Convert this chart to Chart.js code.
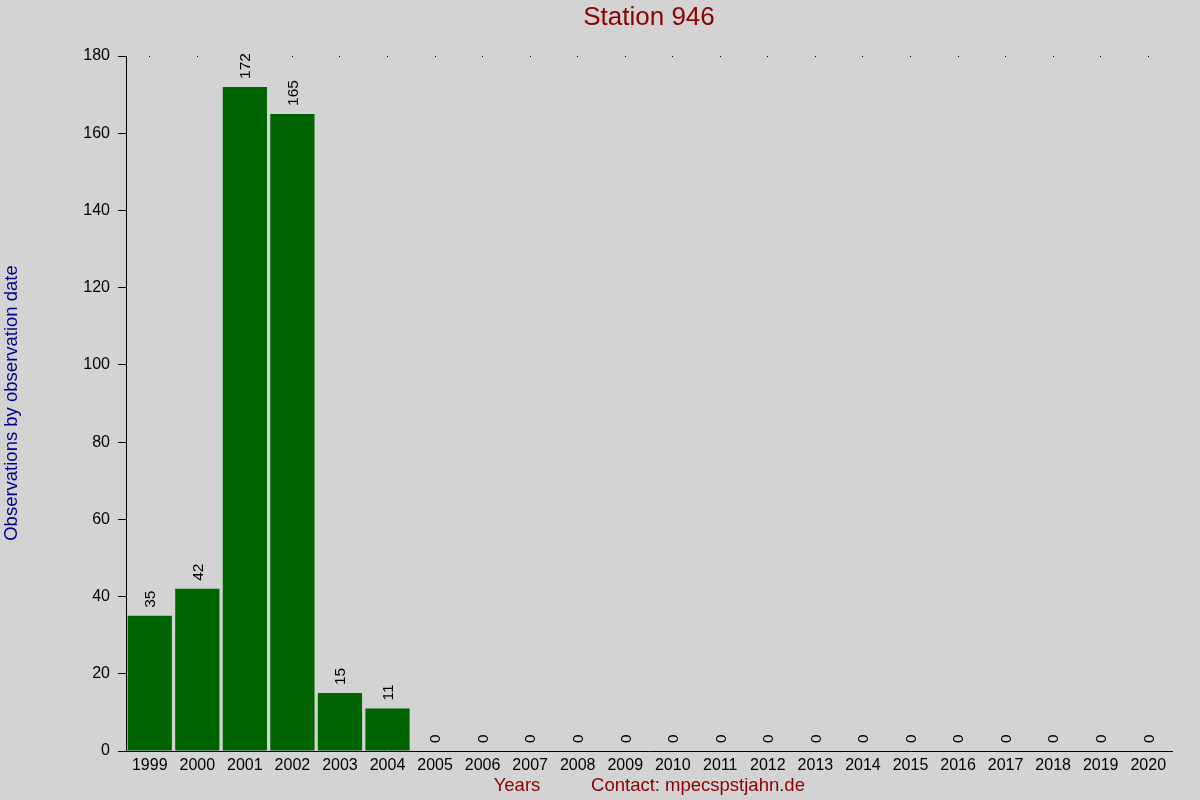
<!DOCTYPE html>
<html><head><meta charset="utf-8">
<script src="https://cdn.jsdelivr.net/npm/chart.js@4/dist/chart.umd.min.js"></script>
<style>html,body{margin:0;padding:0;background:#d3d3d3}canvas{display:block}</style>
</head><body>
<canvas id="c" width="1200" height="800"></canvas>
<script>
const years = ["1999","2000","2001","2002","2003","2004","2005","2006","2007","2008","2009","2010","2011","2012","2013","2014","2015","2016","2017","2018","2019","2020"];
const observations = [35,42,172,165,15,11,0,0,0,0,0,0,0,0,0,0,0,0,0,0,0,0];
const yTicks = [0,20,40,60,80,100,120,140,160,180];
const titleText = "Station 946";
const yTitle = "Observations by observation date";
const xTitle = "Years";
const contactText = "Contact: mpecspstjahn.de";
const FONT = "'Liberation Sans', Arial, sans-serif";

const extras = {
  id: 'extras',
  beforeDraw(chart){
    const c = chart.ctx;
    c.save(); c.fillStyle = '#d3d3d3'; c.fillRect(0,0,chart.width,chart.height); c.restore();
  },
  afterDatasetsDraw(chart){
    const c = chart.ctx;
    const meta = chart.getDatasetMeta(0);
    const xs = chart.scales.x, ys = chart.scales.y;
    c.save();
    c.fillStyle = '#000';
    years.forEach((y,i)=>{
      const px = Math.floor(xs.getPixelForValue(i));
      c.fillRect(px, Math.floor(ys.getPixelForValue(180)), 1, 1);
    });
    c.font = '15.5px ' + FONT;
    c.fillStyle = '#000';
    c.textAlign = 'left';
    c.textBaseline = 'middle';
    meta.data.forEach((bar,i)=>{
      c.save();
      c.translate(bar.x+1, bar.y - 8);
      c.rotate(-Math.PI/2);
      c.fillText(String(observations[i]), 0, 0);
      c.restore();
    });
    c.textAlign = 'center';
    c.textBaseline = 'middle';
    c.fillStyle = '#8b0000';
    c.font = '26px ' + FONT;
    c.fillText(titleText, 649, 18);
    c.font = '18.5px ' + FONT;
    c.fillText(xTitle, 517, 786);
    c.fillText(contactText, 698, 786);
    c.save();
    c.fillStyle = '#00008b';
    c.font = '18.5px ' + FONT;
    c.translate(12, 403);
    c.rotate(-Math.PI/2);
    c.fillText(yTitle, 0, 0);
    c.restore();
    c.restore();
  }
};

new Chart(document.getElementById('c'), {
  type: 'bar',
  data: { labels: years, datasets: [{ data: observations, backgroundColor: '#006400', borderWidth: 0, barPercentage: 0.93, categoryPercentage: 1.0 }] },
  options: {
    responsive: false, animation: false, devicePixelRatio: 1,
    layout: { padding: { top: 56, left: 0, right: 28, bottom: 19 } },
    plugins: { legend: { display: false }, title: { display: false }, tooltip: { enabled: false } },
    scales: {
      x: {
        grid: { display: false, drawTicks: false },
        border: { display: true, color: '#000', width: 1 },
        ticks: { color: '#000', font: { size: 16, family: FONT }, padding: 5, maxRotation: 0, autoSkip: false },
        afterFit(s){ s.height = 30; }
      },
      y: {
        min: 0, max: 180,
        afterBuildTicks(s){ s.ticks = yTicks.map(v=>({value:v})); },
        grid: { drawOnChartArea: false, drawTicks: true, tickLength: 8, color: '#000' },
        border: { display: true, color: '#000', width: 1 },
        ticks: { color: '#000', font: { size: 16, family: FONT }, padding: 8 },
        afterFit(s){ s.width = 126; }
      }
    }
  },
  plugins: [extras]
});
</script>
</body></html>
